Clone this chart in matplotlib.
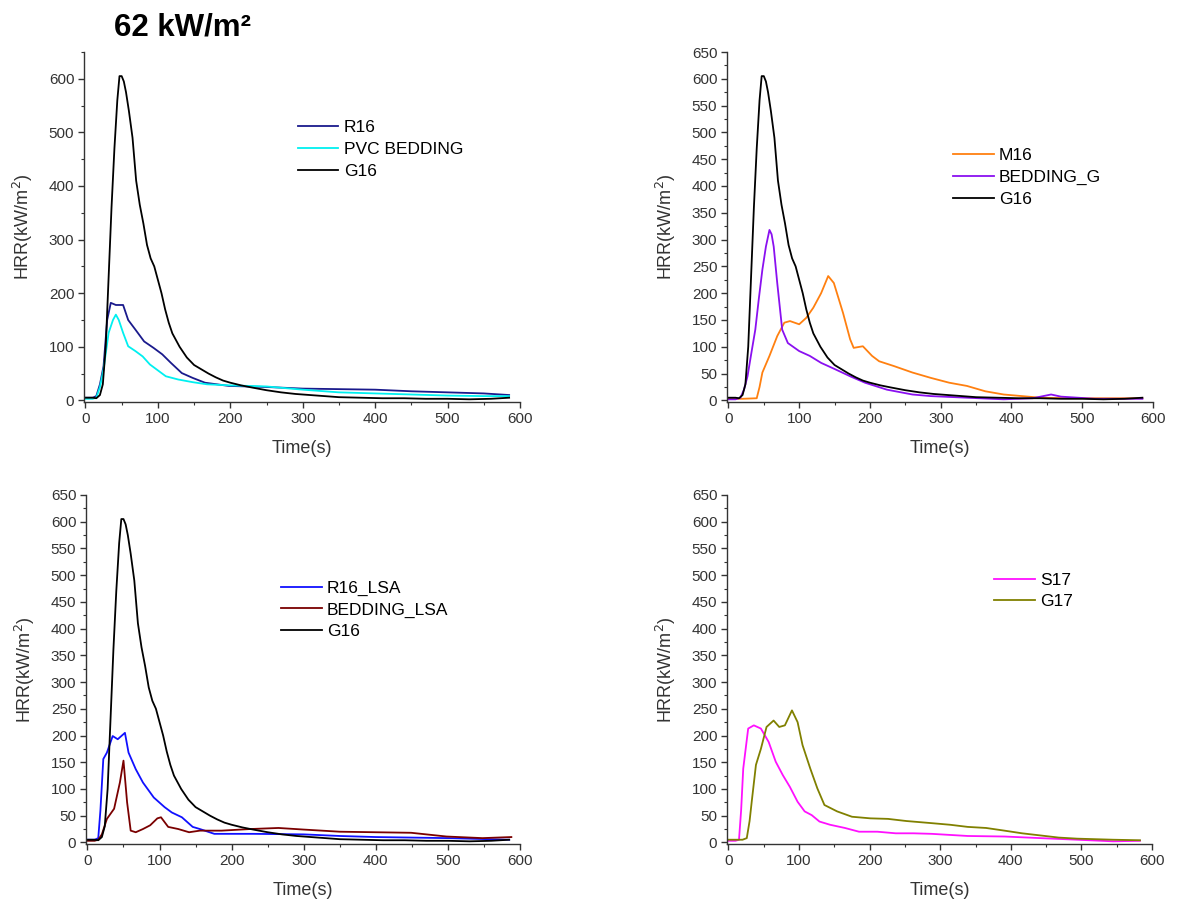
import matplotlib
matplotlib.use("Agg")
import matplotlib.pyplot as plt
from matplotlib.ticker import MultipleLocator

plt.rcParams['font.family'] = ['Liberation Sans', 'DejaVu Sans']

# G16 (same curve in three panels)
g16_t = [0, 10, 15, 20, 24, 28, 32, 36, 40, 44, 47, 50, 53, 56, 60, 65, 70, 75, 80, 85, 90, 95,
         100, 105, 110, 115, 120, 130, 140, 150, 160, 170, 180, 190, 200, 215, 230, 250, 270,
         290, 310, 330, 350, 380, 410, 440, 470, 500, 530, 560, 585]
g16_v = [5, 5, 4, 10, 30, 100, 230, 360, 470, 560, 605, 605, 595, 575, 540, 490, 410, 365, 330,
         290, 265, 250, 225, 200, 170, 145, 125, 100, 80, 66, 58, 50, 43, 37, 33, 28, 24, 19, 15,
         12, 10, 8, 6, 5, 4, 4, 3, 3, 2, 3, 5]

r16_t = [0, 10, 15, 20, 25, 30, 35, 42, 52, 59, 69, 81, 94, 106, 118, 133, 148, 165, 198, 250,
         300, 350, 400, 450, 500, 550, 585]
r16_v = [5, 5, 8, 30, 64, 150, 182, 178, 178, 150, 132, 110, 98, 86, 70, 51, 42, 33, 27, 25,
         22, 21, 20, 17, 15, 13, 10]

pvc_t = [0, 10, 15, 20, 25, 32, 38, 42, 46, 52, 59, 69, 79, 89, 101, 111, 128, 148, 168, 200,
         250, 300, 350, 400, 450, 500, 550, 585]
pvc_v = [3, 3, 5, 25, 58, 126, 150, 160, 150, 126, 101, 92, 82, 67, 55, 45, 39, 34, 30, 28, 26,
         20, 15, 13, 11, 9, 8, 8]

m16_t = [0, 20, 40, 44, 48, 58, 69, 79, 87, 100, 110, 120, 131, 141, 149, 162, 172, 177, 190,
         203, 213, 234, 260, 286, 312, 337, 363, 389, 415, 441, 480, 520, 585]
m16_v = [3, 3, 4, 25, 52, 83, 120, 145, 148, 142, 154, 173, 200, 232, 219, 163, 114, 98, 101,
         83, 73, 64, 52, 42, 33, 27, 17, 11, 8, 5, 4, 4, 4]

bedg_t = [0, 10, 17, 22, 27, 32, 38, 43, 48, 53, 58, 61, 64, 69, 76, 84, 100, 115, 131, 151,
          172, 193, 224, 260, 286, 337, 389, 430, 456, 470, 482, 518, 585]
bedg_v = [2, 2, 5, 20, 45, 85, 132, 190, 244, 287, 318, 310, 287, 219, 132, 107, 92, 83, 70,
          58, 45, 33, 20, 11, 8, 5, 2, 4, 11, 7, 6, 3, 3]

r16lsa_t = [0, 10, 15, 18, 22, 27, 35, 42, 52, 57, 67, 77, 92, 107, 117, 131, 146, 156, 176,
            230, 300, 350, 400, 500, 585]
r16lsa_v = [5, 5, 8, 60, 156, 168, 199, 193, 205, 168, 137, 112, 84, 66, 56, 47, 29, 25, 16,
            16, 15, 12, 10, 8, 5]

bedlsa_t = [0, 10, 15, 20, 27, 37, 45, 50, 55, 60, 67, 77, 87, 97, 102, 112, 126, 141, 156,
            186, 226, 265, 300, 350, 399, 449, 498, 548, 588]
bedlsa_v = [3, 3, 5, 15, 44, 63, 112, 153, 75, 22, 19, 25, 32, 45, 47, 29, 25, 19, 22, 22, 25,
            27, 24, 20, 19, 18, 11, 8, 10]

s17_t = [0, 10, 15, 18, 21, 28, 36, 46, 57, 67, 77, 87, 98, 108, 118, 129, 144, 165, 185, 211,
         237, 262, 288, 339, 391, 442, 494, 545, 583]
s17_v = [3, 3, 5, 60, 138, 213, 219, 213, 188, 151, 126, 104, 76, 58, 51, 39, 33, 27, 20, 20,
         17, 17, 16, 12, 11, 8, 5, 2, 3]

g17_t = [0, 20, 26, 30, 33, 39, 46, 54, 64, 72, 80, 90, 98, 105, 116, 126, 136, 154, 175, 201,
         226, 252, 288, 314, 339, 365, 391, 416, 442, 468, 494, 545, 583]
g17_v = [5, 5, 8, 40, 76, 145, 175, 216, 228, 216, 219, 247, 225, 182, 138, 101, 70, 58, 48, 45,
         44, 40, 36, 33, 29, 27, 22, 17, 13, 9, 7, 5, 4]

W, H = 1184, 901
panels = [
    # (left, right, top, bottom) in pixels, y major step, series, legend anchor
    ((84, 520, 52, 402), 100,
     [(r16_t, r16_v, '#1a1a8c', 'R16'), (pvc_t, pvc_v, '#00f0f0', 'PVC BEDDING'),
      (g16_t, g16_v, 'black', 'G16')], (0.49, 0.805)),
    ((727, 1153, 52, 402), 50,
     [(m16_t, m16_v, '#ff8010', 'M16'), (bedg_t, bedg_v, '#8a10f0', 'BEDDING_G'),
      (g16_t, g16_v, 'black', 'G16')], (0.53, 0.725)),
    ((86, 520, 495, 844), 50,
     [(r16lsa_t, r16lsa_v, '#1010ff', 'R16_LSA'), (bedlsa_t, bedlsa_v, '#7a0000', 'BEDDING_LSA'),
      (g16_t, g16_v, 'black', 'G16')], (0.449, 0.755)),
    ((727, 1152, 495, 844), 50,
     [(s17_t, s17_v, '#ff10ff', 'S17'), (g17_t, g17_v, '#808000', 'G17')], (0.628, 0.778)),
]

fig = plt.figure(figsize=(W / 100, H / 100), dpi=100)

for (l, r, t, b), ystep, series, anchor in panels:
    ax = fig.add_axes([l / W, 1 - b / H, (r - l) / W, (b - t) / H])
    for xs, ys, c, lab in series:
        ax.plot(xs, ys, color=c, lw=1.3, label=lab)
    ax.set_xlim(-2, 600)
    ax.set_ylim(-3, 650)
    ax.xaxis.set_major_locator(MultipleLocator(100))
    ax.xaxis.set_minor_locator(MultipleLocator(50))
    ax.yaxis.set_major_locator(MultipleLocator(ystep))
    ax.yaxis.set_minor_locator(MultipleLocator(ystep / 2))
    if ystep == 100:
        ax.set_yticks([0, 100, 200, 300, 400, 500, 600])
    for s in ['top', 'right']:
        ax.spines[s].set_visible(False)
    for s in ['left', 'bottom']:
        ax.spines[s].set_color('#333333')
        ax.spines[s].set_linewidth(1.0)
    ax.tick_params(which='major', direction='out', length=4, width=1, colors='#333333',
                   labelsize=11, labelcolor='#333333', pad=3)
    ax.tick_params(which='minor', direction='out', length=2.5, width=0.8, colors='#333333')
    ax.set_xlabel('Time(s)', fontsize=13, color='#333333', labelpad=10)
    ax.set_ylabel('HRR(kW/m$^2$)', fontsize=13, color='#333333', labelpad=10)
    ax.legend(loc='upper left', bbox_to_anchor=anchor, frameon=False, fontsize=12.5,
              borderaxespad=0, borderpad=0, handlelength=2.35, handletextpad=0.3,
              labelspacing=0.38)

fig.text(183 / W, 1 - 27 / H, '62 kW/m²', ha='center', va='center', fontsize=22.5,
         fontweight='bold')

fig.savefig('out.png', dpi=100)
